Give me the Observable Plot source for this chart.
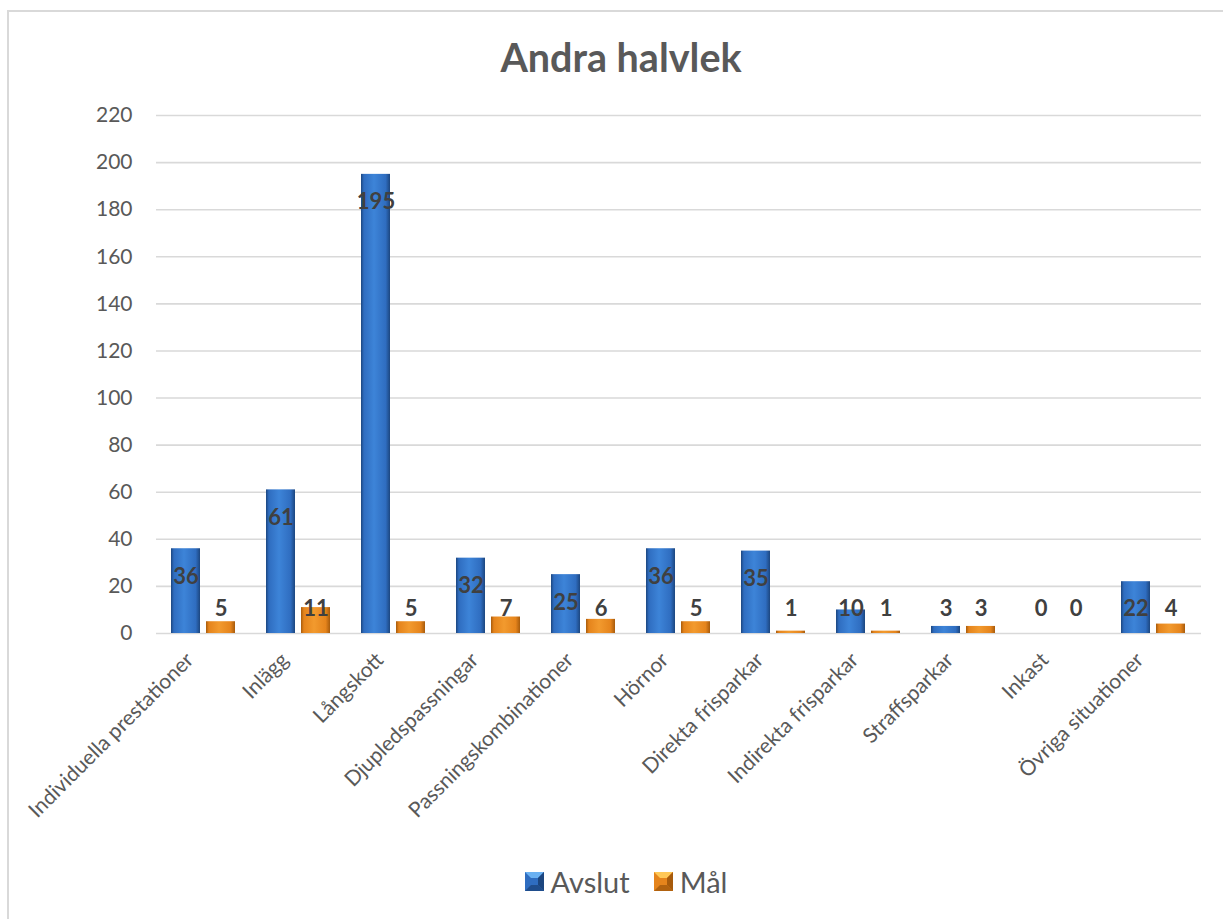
<!DOCTYPE html>
<html>
<head>
<meta charset="utf-8">
<script src="https://cdn.jsdelivr.net/npm/d3@7"></script>
<script src="https://cdn.jsdelivr.net/npm/@observablehq/plot@0.6"></script>
<style>
  html, body { margin: 0; padding: 0; background: #fff; overflow: hidden; width: 1223px; height: 919px; }
  #chart { position: absolute; left: 7px; top: 10px; width: 1224px; height: 920px; border: 2px solid #d9d9d9; font-family: Lato, sans-serif; background: #fff; }
  #title { height: 57px; padding-top: 26px; text-align: center; font-weight: 700; font-size: 39.5px; line-height: 38px; color: #595959; }
  #plot svg { display: block; }
  #legend { height: 62px; padding-left: 10px; display: flex; justify-content: center; align-items: center; color: #595959; font-size: 29px; }
  .item { display: flex; align-items: center; margin: 0 12px; }
  .item svg { margin-right: 7px; }
</style>
</head>
<body>
<div id="chart">
  <div id="title">Andra halvlek</div>
  <div id="plot"></div>
  <div id="legend"></div>
</div>
<script>
// Goal situations, second half
const categories = [
  "Individuella prestationer", "Inlägg", "Långskott", "Djupledspassningar",
  "Passningskombinationer", "Hörnor", "Direkta frisparkar", "Indirekta frisparkar",
  "Straffsparkar", "Inkast", "Övriga situationer"
];
const series = ["Avslut", "Mål"];
const avslut = [36, 61, 195, 32, 25, 36, 35, 10, 3, 0, 22];
const mal = [5, 11, 5, 7, 6, 5, 1, 1, 3, 0, 4];
const yTicks = [0, 20, 40, 60, 80, 100, 120, 140, 160, 180, 200, 220];

// Bevelled bar palette
const palette = {
  "Avslut": { edge: "#1c467f", body: "#2f6dc0", light: "#3d84d8", top: "#6ab1f2", bottom: "#1f4d8c", base: "#8fa9cf" },
  "Mål":    { edge: "#a75b0c", body: "#e5841c", light: "#f29a2e", top: "#ffc857", bottom: "#b1620f", base: "#e9b98c" }
};

const rows = [];
categories.forEach((c, i) => {
  rows.push({ category: c, series: "Avslut", value: avslut[i] });
  rows.push({ category: c, series: "Mål", value: mal[i] });
});

const svg = Plot.plot({
  width: 1224,
  height: 755,
  marginTop: 20,
  marginLeft: 143,
  marginRight: 28,
  marginBottom: 217,
  style: { fontFamily: "Lato, sans-serif", background: "transparent" },
  fx: { domain: categories, padding: 0 },
  x: { domain: series, paddingInner: 0.167, paddingOuter: 0.41, axis: null },
  y: { domain: [0, 220] },
  marks: [
    Plot.gridY(yTicks, { stroke: "#d9d9d9", strokeOpacity: 1, strokeWidth: 1.6 }),
    Plot.axisY(yTicks, { tickSize: 0, tickPadding: 24, fontSize: 21, fill: "#595959", label: null }),
    Plot.axisFx({ anchor: "bottom", tickSize: 0, tickPadding: 23, dx: -14, tickRotate: -45, fontSize: 21, fill: "#595959", label: null }),
    Plot.barY(rows.filter(d => d.series === "Avslut"), { fx: "category", x: "series", y: "value", fill: "url(#grad-avslut)", ariaLabel: "avslut" }),
    Plot.barY(rows.filter(d => d.series === "Mål"), { fx: "category", x: "series", y: "value", fill: "url(#grad-mal)", ariaLabel: "mal" }),
    Plot.text(rows, {
      fx: "category", x: "series",
      y: d => Math.max(d.value - 11.9, 10.6),
      text: d => String(d.value),
      fontWeight: "bold", fontSize: 22, fill: "#404040"
    })
  ]
});

// Gradients and bevel faces for the bars
const root = d3.select(svg);
const defs = root.insert("defs", ":first-child");
function hGrad(id, p) {
  const g = defs.append("linearGradient").attr("id", id)
    .attr("x1", 0).attr("x2", 1).attr("y1", 0).attr("y2", 0);
  [[0, p.edge], [0.1, p.body], [0.45, p.light], [0.85, p.body], [1, p.edge]]
    .forEach(([o, c]) => g.append("stop").attr("offset", o).attr("stop-color", c));
}
hGrad("grad-avslut", palette["Avslut"]);
hGrad("grad-mal", palette["Mål"]);
const shadow = defs.append("filter").attr("id", "bar-shadow")
  .attr("x", "-30%").attr("y", "-30%").attr("width", "160%").attr("height", "160%");
shadow.append("feDropShadow").attr("dx", 1.5).attr("dy", 0).attr("stdDeviation", 1.5)
  .attr("flood-color", "#000").attr("flood-opacity", 0.3);

function bevel(selector, p) {
  root.selectAll(selector).each(function () {
    const r = d3.select(this);
    const x = +r.attr("x"), y = +r.attr("y"), w = +r.attr("width"), h = +r.attr("height");
    if (!(h > 0.5)) return;
    r.attr("filter", "url(#bar-shadow)");
    const parent = d3.select(this.parentNode);
    const b = Math.min(7, h / 2);
    parent.append("rect").attr("x", x).attr("y", y + h + 1).attr("width", w).attr("height", 2)
      .attr("fill", p.base);
    parent.append("polygon")
      .attr("points", [[x, y], [x + w, y], [x + w - b, y + b], [x + b, y + b]].join(" "))
      .attr("fill", p.top);
    parent.append("polygon")
      .attr("points", [[x, y + h], [x + b, y + h - b], [x + w - b, y + h - b], [x + w, y + h]].join(" "))
      .attr("fill", p.bottom).attr("fill-opacity", 0.7);
  });
}
bevel('g[aria-label="avslut"] rect', palette["Avslut"]);
bevel('g[aria-label="mal"] rect', palette["Mål"]);
// keep value labels above the bevel faces
root.selectAll('g[aria-label="text"]').raise();

document.getElementById("plot").appendChild(svg);

// Legend
const legend = d3.select("#legend");
series.forEach(s => {
  const p = palette[s];
  const item = legend.append("div").attr("class", "item");
  const sw = item.append("svg").attr("width", 19).attr("height", 19);
  sw.append("rect").attr("width", 19).attr("height", 19).attr("fill", p.body);
  sw.append("polygon").attr("points", "0,0 19,0 13,6 6,6").attr("fill", p.top);
  sw.append("polygon").attr("points", "0,19 6,13 13,13 19,19").attr("fill", p.bottom);
  sw.append("polygon").attr("points", "19,0 19,19 13,13 13,6").attr("fill", p.edge);
  item.append("span").text(s);
});
</script>
</body>
</html>
